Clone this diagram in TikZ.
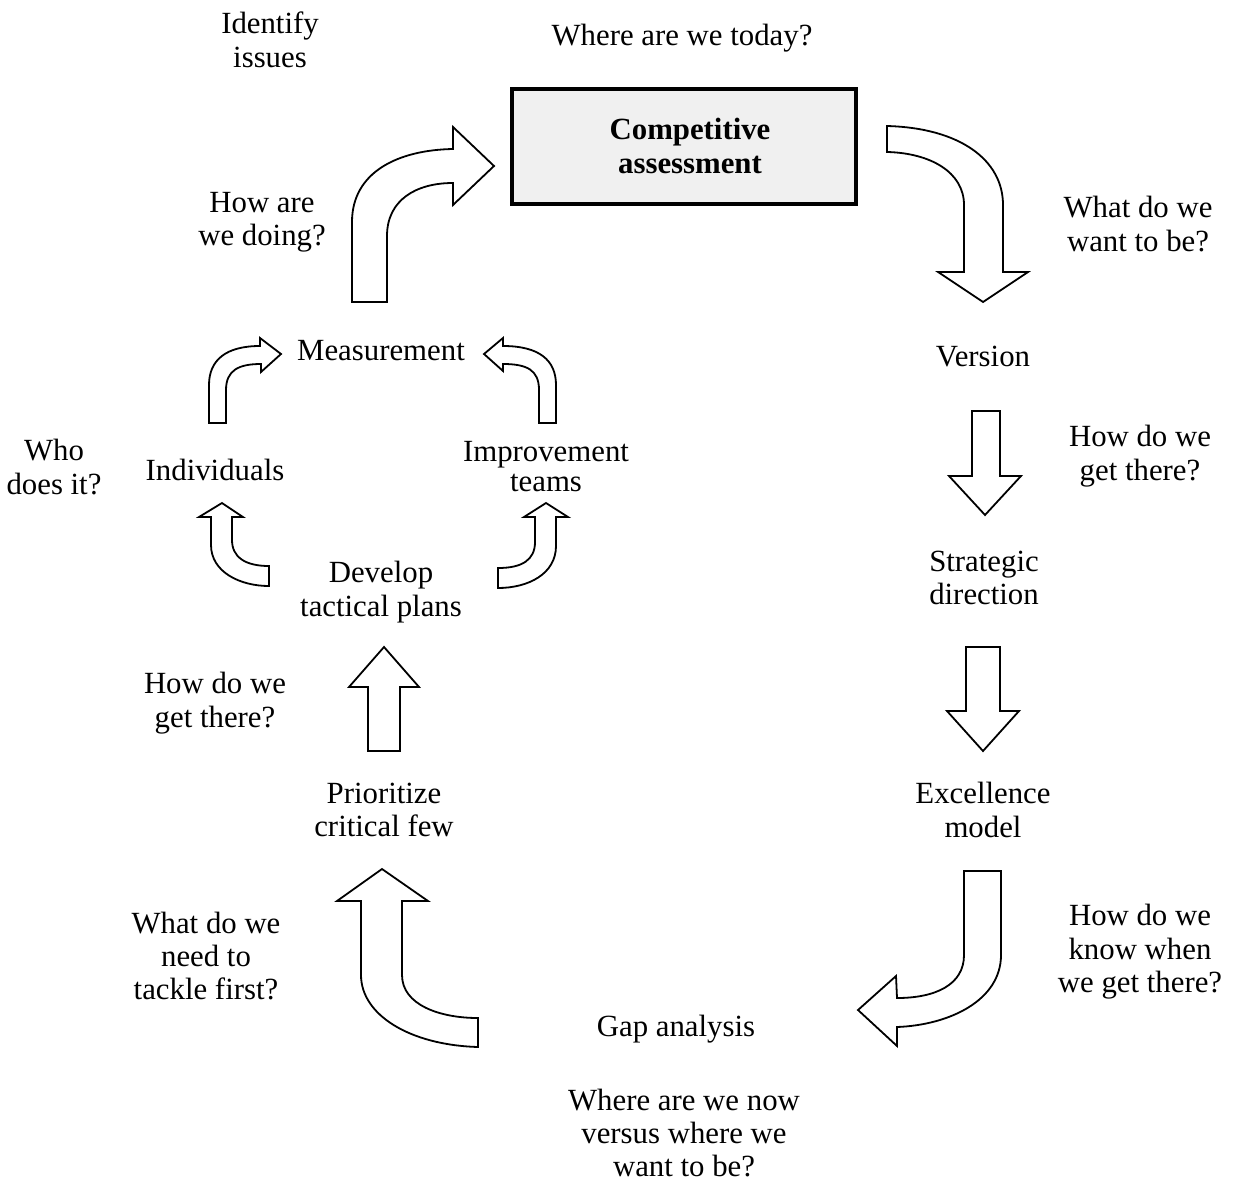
\documentclass[tikz,border=0pt]{standalone}
\usepackage{fontspec}
\setmainfont{Liberation Serif}
\begin{document}
\begin{tikzpicture}[x=0.5pt,y=-0.5pt,
  lbl/.style={align=center, font=\fontsize{15.4}{16.7}\selectfont, inner sep=0pt},
  blockarrow/.style={draw=black, fill=white, line width=0.9pt, line join=miter},
  mainbox/.style={draw=black, line width=2pt, fill=black!6,
    minimum width=172pt, minimum height=57.5pt, inner sep=0pt}]
\useasboundingbox (0,0) rectangle (1240,1182);

% ---------- central box ----------
\node[mainbox] (comp) at (684,146.5) {};
\node[lbl, font=\fontsize{15.4}{16.7}\selectfont\bfseries] (comptxt) at (690,146) {Competitive\\assessment};

% ---------- stage labels ----------
\node[lbl] (version)   at (983,357)  {Version};
\node[lbl] (strategic) at (984,578)  {Strategic\\direction};
\node[lbl] (excel)     at (983,810)  {Excellence\\model};
\node[lbl] (gap)       at (676,1029) {Gap analysis};
\node[lbl] (prior)     at (384,810)  {Prioritize\\critical few};
\node[lbl] (develop)   at (381,592)  {Develop\\tactical plans};
\node[lbl] (indiv)     at (215,470)  {Individuals};
\node[lbl, font=\fontsize{15.4}{15}\selectfont] (teams) at (546,467) {Improvement\\teams};
\node[lbl] (measure)   at (381,351)  {Measurement};

% ---------- questions ----------
\node[lbl] (q1)  at (270,40)   {Identify\\issues};
\node[lbl] (q2)  at (682,38)   {Where are we today?};
\node[lbl] (q3)  at (262,222)  {How are\\we doing?};
\node[lbl] (q4)  at (1138,224) {What do we\\want to be?};
\node[lbl] (q5)  at (1140,456) {How do we\\get there?};
\node[lbl] (q6)  at (1140,952) {How do we\\know when\\we get there?};
\node[lbl] (q7)  at (684,1133) {Where are we now\\versus where we\\want to be?};
\node[lbl] (q8)  at (206,956)  {What do we\\need to\\tackle first?};
\node[lbl] (q9)  at (215,703)  {How do we\\get there?};
\node[lbl] (q10) at (54,467)   {Who\\does it?};

% ---------- big curved arrows ----------
% measurement -> competitive assessment
\draw[blockarrow] (352,302) -- (352,222)
  .. controls (352,172) and (398,150) .. (453,149) -- (453,127) -- (494,166)
  -- (453,205) -- (453,183) .. controls (416,183) and (387,200) .. (387,236)
  -- (387,302) -- cycle;
% competitive assessment -> version
\draw[blockarrow] (887,126) .. controls (960,128) and (1003,160) .. (1003,205)
  -- (1003,272) -- (1028,272) -- (983,302) -- (938,272) -- (964,272)
  -- (964,205) .. controls (964,172) and (930,153) .. (887,152) -- cycle;
% excellence model -> gap analysis
\draw[blockarrow] (964,871) -- (1001,871) -- (1001,955)
  .. controls (1001,1000) and (950,1025) .. (897,1027) -- (897,1046)
  -- (858,1010) -- (896,976) -- (897,998)
  .. controls (935,998) and (964,985) .. (964,955) -- cycle;
% gap analysis -> prioritize
\draw[blockarrow] (478,1047) .. controls (410,1045) and (361,1015) .. (361,975)
  -- (361,901) -- (337,901) -- (382,869) -- (428,901) -- (402,901)
  -- (402,975) .. controls (402,1005) and (440,1018) .. (478,1018) -- cycle;

% ---------- straight arrows ----------
\draw[blockarrow] (972,411) -- (1000,411) -- (1000,476) -- (1021,476)
  -- (985,515) -- (949,476) -- (972,476) -- cycle;
\draw[blockarrow] (966,647) -- (1000,647) -- (1000,711) -- (1019,711)
  -- (983,751) -- (947,711) -- (966,711) -- cycle;
\draw[blockarrow] (368,751) -- (368,687) -- (349,687) -- (384,647)
  -- (419,687) -- (400,687) -- (400,751) -- cycle;

% ---------- small curved arrows ----------
% individuals -> measurement
\draw[blockarrow] (209,423) -- (209,385) .. controls (209,360) and (226,346) .. (260,346)
  -- (260,338) -- (281,354) -- (261,372) -- (261,364)
  .. controls (239,364) and (226,370) .. (226,390) -- (226,423) -- cycle;
% improvement teams -> measurement
\draw[blockarrow] (556,423) -- (556,385) .. controls (556,360) and (539,346) .. (503,346)
  -- (503,338) -- (484,354) -- (503,371) -- (503,364)
  .. controls (527,364) and (539,370) .. (539,390) -- (539,423) -- cycle;
% develop -> individuals
\draw[blockarrow] (269,566) .. controls (245,566) and (232,557) .. (232,540)
  -- (232,517) -- (243,517) -- (222,503) -- (199,517) -- (211,517)
  -- (211,545) .. controls (211,572) and (240,586) .. (269,586) -- cycle;
% develop -> improvement teams
\draw[blockarrow] (498,568) .. controls (522,568) and (535,560) .. (535,542)
  -- (535,517) -- (524,517) -- (546,503) -- (568,517) -- (556,517)
  -- (556,546) .. controls (556,574) and (528,588) .. (498,588) -- cycle;
\end{tikzpicture}
\end{document}
